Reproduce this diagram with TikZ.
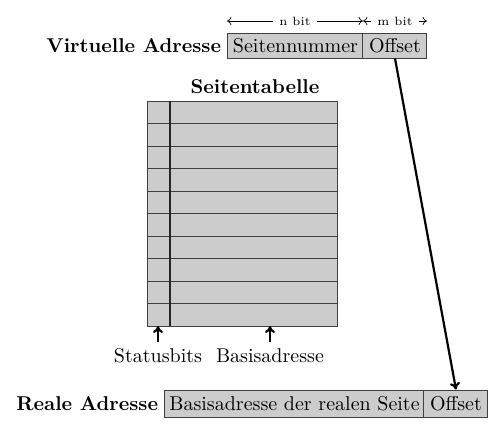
\documentclass[tikz,border=0pt]{standalone}
\usetikzlibrary{arrows.meta}
\begin{document}
\begin{tikzpicture}[x=0.5pt,y=-0.5pt,
  cell/.style={draw=black!75, fill=black!20, rectangle, inner sep=0pt, line width=0.5pt},
  lbl/.style={font=\bfseries, anchor=east, inner sep=3pt},
  dimline/.style={{Computer Modern Rightarrow[length=2.2pt,width=4pt]}-{Computer Modern Rightarrow[length=2.2pt,width=4pt]}, line width=0.35pt},
  dimtext/.style={font=\fontsize{6}{7}\selectfont, fill=white, inner sep=3pt},
  bigarrow/.style={-{To[length=3.5pt,width=5pt]}, line width=1.1pt}]
\useasboundingbox (0,0) rectangle (500,429);
% virtual address
\node[cell, minimum width=67.5pt, minimum height=12.5pt] (vsn) at (295.5,45.5) {Seitennummer};
\node[cell, minimum width=32pt, minimum height=12.5pt] (voff) at (395,45.5) {Offset};
\node[lbl] (vlbl) at (vsn.west) {Virtuelle Adresse};
% bit widths
\coordinate (d0) at (227,21);
\coordinate (d1) at (363,21);
\coordinate (d2) at (427,21);
\draw[dimline] (d0) -- node[dimtext] (nbit) {n bit} (d1);
\draw[dimline] (d1) -- node[dimtext] (mbit) {m bit} (d2);
% page table
\node[font=\bfseries] (ttitle) at (255,87) {Seitentabelle};
\node[cell, minimum width=95pt, minimum height=112.5pt] (tab) at (243,213.5) {};
\foreach \yy in {123.5,146,168.5,191,213.5,236,258.5,281,303.5}
  \draw[black!75, line width=0.5pt] (148,\yy) -- (338,\yy);
\draw[black!85, line width=0.8pt] (170,101) -- (170,326);
\node (sb) at (158,356) {Statusbits};
\node (ba) at (270,356) {Basisadresse};
\coordinate (sbt) at (158,326);
\coordinate (bat) at (270,326);
\draw[bigarrow] (sb.north) -- (sbt);
\draw[bigarrow] (ba.north) -- (bat);
% real address
\node[cell, minimum width=129.5pt, minimum height=13.5pt] (rb) at (294.5,403.5) {Basisadresse der realen Seite};
\node[cell, minimum width=32pt, minimum height=13.5pt] (roff) at (456,403.5) {Offset};
\node[lbl] (rlbl) at (rb.west) {Reale Adresse};
% mapping arrow
\draw[bigarrow] (voff.south) -- (roff.north);
\end{tikzpicture}
\end{document}
